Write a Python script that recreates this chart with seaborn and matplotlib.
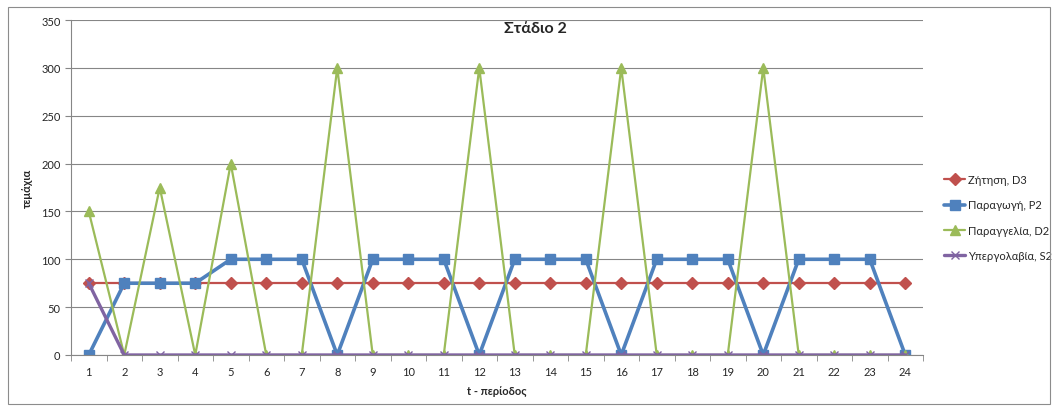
import matplotlib
matplotlib.use("Agg")
import matplotlib.pyplot as plt
import seaborn as sns
import pandas as pd
from matplotlib.patches import Rectangle

periods = list(range(1, 25))
demand_D3 = [75] * 24
production_P2 = [0, 75, 75, 75, 100, 100, 100, 0, 100, 100, 100, 0,
                 100, 100, 100, 0, 100, 100, 100, 0, 100, 100, 100, 0]
order_D2 = [150, 0, 175, 0, 200, 0, 0, 300, 0, 0, 0, 300,
            0, 0, 0, 300, 0, 0, 0, 300, 0, 0, 0, 0]
subcontract_S2 = [75] + [0] * 23

series_names = ["Ζήτηση, D3", "Παραγωγή, P2", "Παραγγελία, D2", "Υπεργολαβία, S2"]
series_values = [demand_D3, production_P2, order_D2, subcontract_S2]

sns.set_style("white")
plt.rcParams['font.family'] = ['Lato', 'DejaVu Sans']

fig = plt.figure(figsize=(10.58, 4.10), dpi=100)
fig.patches.append(Rectangle((8/1058, 5/410), 1042/1058, 397/410, transform=fig.transFigure,
                             fill=False, edgecolor="#8c8c8c", linewidth=0.8))
ax = fig.add_axes([71/1058, 54/410, 852/1058, 335/410])

styles = [
    dict(color="#C0504D", marker="D", lw=1.6, ms=6),
    dict(color="#4F81BD", marker="s", lw=2.6, ms=6.5),
    dict(color="#9BBB59", marker="^", lw=1.6, ms=7),
    dict(color="#8064A2", marker="x", lw=2.4, ms=6),
]
for name, vals, st in zip(series_names, series_values, styles):
    df = pd.DataFrame({"t": periods, "v": vals})
    sns.lineplot(data=df, x="t", y="v", ax=ax, color=st["color"], marker=st["marker"],
                 linewidth=st["lw"], markersize=st["ms"], markeredgecolor=st["color"],
                 markeredgewidth=1.0, label=name)

ax.set_xlim(0.5, 24.5)
ax.set_ylim(0, 350)
ax.set_yticks(range(0, 351, 50))
ax.set_xticks(periods)
ax.set_xticks([p + 0.5 for p in range(0, 25)], minor=True)
ax.tick_params(axis="x", which="major", length=0, labelsize=8, pad=8)
ax.tick_params(axis="x", which="minor", length=4, color="#868686", direction="out", bottom=True)
ax.tick_params(axis="y", length=4, color="#868686", direction="out", labelsize=8, left=True)
ax.grid(axis="y", color="#868686", linewidth=0.8)
ax.grid(axis="x", visible=False)
for s in ["top", "right"]:
    ax.spines[s].set_visible(False)
for s in ["left", "bottom"]:
    ax.spines[s].set_color("#868686")
    ax.spines[s].set_linewidth(0.8)
ax.set_axisbelow(True)

ax.set_xlabel("t - περίοδος", fontsize=8, fontweight="bold", labelpad=6)
ax.set_ylabel("τεμάχια", fontsize=8, fontweight="bold", labelpad=6)
fig.text(535/1058, 1 - 29/410, "Στάδιο 2", fontsize=11.5, fontweight="bold",
         ha="center", va="center")

leg = ax.legend(loc="upper left", bbox_to_anchor=(934/1058, 1 - 165/410),
                bbox_transform=fig.transFigure, frameon=False, fontsize=8,
                handlelength=1.9, labelspacing=1.3, handletextpad=0.3)

fig.savefig("out.png", dpi=100)
